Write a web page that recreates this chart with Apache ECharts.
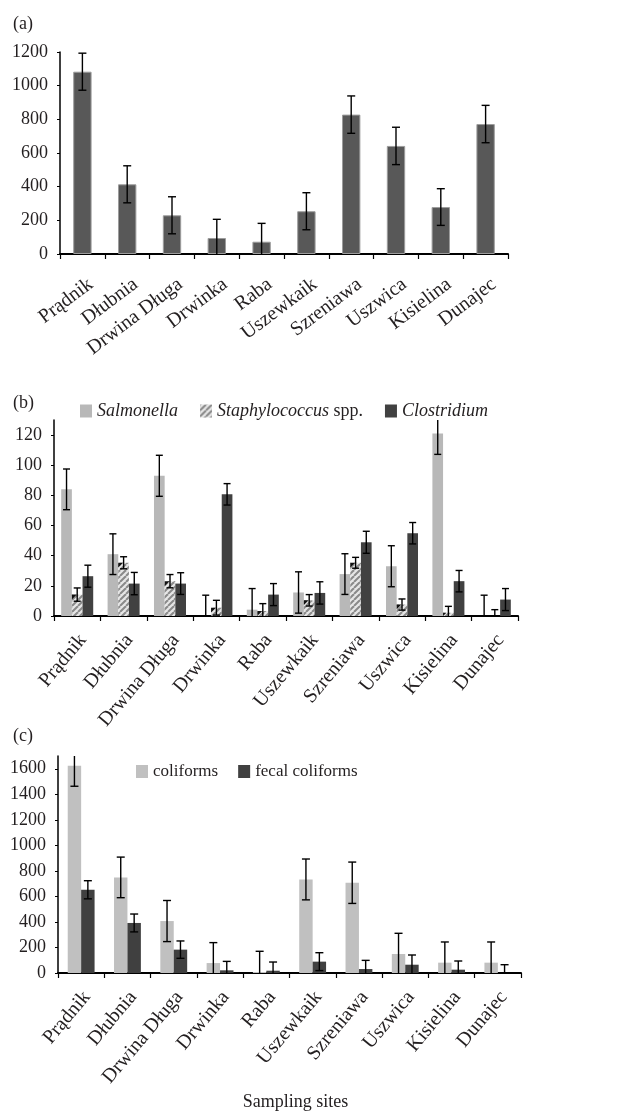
<!DOCTYPE html>
<html><head><meta charset="utf-8">
<script src="https://cdn.jsdelivr.net/npm/echarts@6/dist/echarts.min.js"></script>
<style>html,body{margin:0;padding:0;background:#fff}#c{width:622px;height:1111px}</style>
</head><body><div id="c"></div>
<script>
// ---------- data ----------
const sites = ['Prądnik','Dłubnia','Drwina Długa','Drwinka','Raba','Uszewkaik','Szreniawa','Uszwica','Kisielina','Dunajec'];

// panel (a)
const totalA    = [1083, 414, 230, 95, 73, 254, 828, 642, 279, 772];
const totalAErr = [110, 110, 110, 111, 109, 110, 111, 111, 109, 111];

// panel (b)
const salmonella    = [84, 41, 93, 0, 4.2, 15.6, 27.8, 33, 121, 0];
const salmonellaErr = [13.5, 13.5, 13.6, 13.8, 14, 13.7, 13.5, 13.6, 13.8, 13.8];
const staph         = [14.2, 35.3, 23.1, 5.5, 3.3, 10.4, 35.3, 7.6, 2.2, 0];
const staphErr      = [4.4, 4, 4.4, 4.9, 4.9, 3.8, 3.6, 3.7, 4.2, 4.2];
const clostridium   = [26.4, 21.5, 21.5, 80.7, 14.2, 15.3, 48.9, 54.9, 23.1, 10.9];
const clostridiumErr= [7.3, 7.4, 7.2, 7.1, 7.3, 7.4, 7.3, 7.1, 7.1, 7.3];

// panel (c)
const coliforms      = [1623, 749, 407, 78, 8, 733, 707, 149, 81, 81];
const coliformsErr   = [160, 159, 161, 160, 162, 160, 162, 162, 162, 162];
const fecal          = [652, 392, 183, 21, 18, 89, 31, 65, 26, 0];
const fecalErr       = [71, 70, 68, 70, 68, 70, 68, 76, 68, 65];

const yTicksA = [0,200,400,600,800,1000,1200];
const yTicksB = [0,20,40,60,80,100,120];
const yTicksC = [0,200,400,600,800,1000,1200,1400,1600];

// ---------- helpers ----------
const FONT = "'Liberation Serif','DejaVu Serif',serif";
const TXT = '#231f20';

function errData(vals, errs, yMax) {
  return vals.map((v, i) => {
    const lo = Math.max(0, v - errs[i]);
    const hi = Math.min(yMax, v + errs[i]);
    return [i, lo, hi, v, (v + errs[i]) <= yMax ? 1 : 0, (v - errs[i]) > 0 ? 1 : 0];
  });
}
function errRender(n, k, frac, cap, triangle) {
  return function (params, api) {
    const i = api.value(0), lo = api.value(1), hi = api.value(2), v = api.value(3);
    const capTop = api.value(4), capBot = api.value(5);
    const band = api.size([1, 0])[0];
    const bw = band * frac;
    const pHi = api.coord([i, hi]), pLo = api.coord([i, lo]);
    const x = pHi[0] + (k - (n - 1) / 2) * bw;
    const st = { stroke: '#000', lineWidth: 1.4 };
    const ch = [];
    if (triangle && v > 0) {
      const pV = api.coord([i, v]);
      const p0 = api.coord([i, 0]);
      const xl = x - bw / 2;
      const s = Math.min(bw * 0.45, p0[1] - pV[1]);
      ch.push({ type: 'polygon', shape: { points: [[xl, pV[1]], [xl + s, pV[1]], [xl, pV[1] + s]] }, style: { fill: '#111' } });
    }
    ch.push({ type: 'line', shape: { x1: x, y1: pHi[1], x2: x, y2: pLo[1] }, style: st });
    if (capTop) ch.push({ type: 'line', shape: { x1: x - cap, y1: pHi[1], x2: x + cap, y2: pHi[1] }, style: st });
    if (capBot) ch.push({ type: 'line', shape: { x1: x - cap, y1: pLo[1], x2: x + cap, y2: pLo[1] }, style: st });
    return { type: 'group', children: ch };
  };
}

// hatched pattern for Staphylococcus
const pat = document.createElement('canvas');
pat.width = 6; pat.height = 6;
(function () {
  const g = pat.getContext('2d');
  g.fillStyle = '#e6e6e6'; g.fillRect(0, 0, 6, 6);
  g.strokeStyle = '#8a8a8a'; g.lineWidth = 2;
  for (let o = -6; o <= 12; o += 6) { g.beginPath(); g.moveTo(o - 6, 6); g.lineTo(o, 0); g.stroke(); }
})();

function xAxis(gridIndex, rot, margin, padRight, extra) {
  return Object.assign({
    type: 'category', gridIndex, data: sites, boundaryGap: true,
    axisLine: { lineStyle: { color: '#000', width: 2 } },
    axisTick: { show: true, length: 5, lineStyle: { color: '#000', width: 1.2 } },
    axisLabel: { interval: 0, rotate: rot, fontFamily: FONT, fontSize: 20, color: TXT, margin: margin,
      verticalAlign: 'top', padding: [0, padRight, 0, 0] }
  }, extra || {});
}
function yAxis(gridIndex, max, ticks) {
  return {
    type: 'value', gridIndex, min: 0, max,
    splitLine: { show: false },
    axisLine: { show: true, lineStyle: { color: '#000', width: 1.5 } },
    axisTick: { show: true, length: 3, customValues: ticks, lineStyle: { color: '#000' } },
    axisLabel: { customValues: ticks, formatter: v => String(v), fontFamily: FONT, fontSize: 18, color: TXT, margin: 12 }
  };
}

const YA = 1200, YB = 130, YC = 1700;
const fracA = 0.41, fracB = 0.23, fracC = 0.29;

const option = {
  animation: false,
  backgroundColor: '#fff',
  title: [
    { text: '(a)', left: 8, top: 10, textStyle: { fontFamily: FONT, fontSize: 18, fontWeight: 'normal', color: TXT } },
    { text: '(b)', left: 8, top: 389, textStyle: { fontFamily: FONT, fontSize: 18, fontWeight: 'normal', color: TXT } },
    { text: '(c)', left: 8, top: 722, textStyle: { fontFamily: FONT, fontSize: 18, fontWeight: 'normal', color: TXT } }
  ],
  legend: [
    {
      data: ['Salmonella', 'Staphylococcus spp.', 'Clostridium'],
      left: 80, top: 402, padding: 0, itemWidth: 12, itemHeight: 13, itemGap: 22,
      icon: 'rect',
      formatter: function (n) { return n === 'Staphylococcus spp.' ? '{i|Staphylococcus} spp.' : '{i|' + n + '}'; },
      textStyle: { fontFamily: FONT, fontSize: 18, color: TXT,
        rich: { i: { fontFamily: FONT, fontSize: 18, fontStyle: 'italic', color: TXT } } }
    },
    {
      data: ['coliforms', 'fecal coliforms'],
      left: 136, top: 763, padding: 0, itemWidth: 12, itemHeight: 13, itemGap: 20, icon: 'rect',
      textStyle: { fontFamily: FONT, fontSize: 17, color: TXT }
    }
  ],
  grid: [
    { left: 60, top: 52, width: 448, height: 202, outerBoundsMode: 'none' },
    { left: 54, top: 420, width: 464, height: 196, outerBoundsMode: 'none' },
    { left: 58, top: 756, width: 463, height: 217, outerBoundsMode: 'none' }
  ],
  xAxis: [
    xAxis(0, 37, 22, -3), xAxis(1, 50, 12, 3),
    xAxis(2, 50, 12, 3, { name: 'Sampling sites', nameLocation: 'middle', nameGap: 120,
      nameTextStyle: { fontFamily: FONT, fontSize: 18, color: TXT, padding: [0, 0, 0, 12] } })
  ],
  yAxis: [ yAxis(0, YA, yTicksA), yAxis(1, YB, yTicksB), yAxis(2, YC, yTicksC) ],
  series: [
    { name: 'total', type: 'bar', xAxisIndex: 0, yAxisIndex: 0, data: totalA, barWidth: '41%',
      itemStyle: { color: '#585858', borderColor: '#9c9c9c', borderWidth: 1 } },
    { type: 'custom', xAxisIndex: 0, yAxisIndex: 0, z: 5, data: errData(totalA, totalAErr, YA),
      encode: { x: 0, y: [1, 2] }, renderItem: errRender(1, 0, fracA, 4, false) },

    { name: 'Salmonella', type: 'bar', xAxisIndex: 1, yAxisIndex: 1, data: salmonella, barWidth: '23%', barGap: '0%',
      itemStyle: { color: '#b8b8b8' } },
    { name: 'Staphylococcus spp.', type: 'bar', xAxisIndex: 1, yAxisIndex: 1, data: staph, barWidth: '23%', barGap: '0%',
      itemStyle: { color: { image: pat, repeat: 'repeat' } } },
    { name: 'Clostridium', type: 'bar', xAxisIndex: 1, yAxisIndex: 1, data: clostridium, barWidth: '23%', barGap: '0%',
      itemStyle: { color: '#414141' } },
    { type: 'custom', xAxisIndex: 1, yAxisIndex: 1, z: 5, data: errData(salmonella, salmonellaErr, YB),
      encode: { x: 0, y: [1, 2] }, renderItem: errRender(3, 0, fracB, 3.5, false) },
    { type: 'custom', xAxisIndex: 1, yAxisIndex: 1, z: 5, data: errData(staph, staphErr, YB),
      encode: { x: 0, y: [1, 2] }, renderItem: errRender(3, 1, fracB, 3.5, true) },
    { type: 'custom', xAxisIndex: 1, yAxisIndex: 1, z: 5, data: errData(clostridium, clostridiumErr, YB),
      encode: { x: 0, y: [1, 2] }, renderItem: errRender(3, 2, fracB, 3.5, false) },

    { name: 'coliforms', type: 'bar', xAxisIndex: 2, yAxisIndex: 2, data: coliforms, barWidth: '29%', barGap: '0%',
      itemStyle: { color: '#c0c0c0' } },
    { name: 'fecal coliforms', type: 'bar', xAxisIndex: 2, yAxisIndex: 2, data: fecal, barWidth: '29%', barGap: '0%',
      itemStyle: { color: '#404040' } },
    { type: 'custom', xAxisIndex: 2, yAxisIndex: 2, z: 5, data: errData(coliforms, coliformsErr, YC),
      encode: { x: 0, y: [1, 2] }, renderItem: errRender(2, 0, fracC, 4, false) },
    { type: 'custom', xAxisIndex: 2, yAxisIndex: 2, z: 5, data: errData(fecal, fecalErr, YC),
      encode: { x: 0, y: [1, 2] }, renderItem: errRender(2, 1, fracC, 4, false) }
  ]
};
const chart = echarts.init(document.getElementById('c'), null, { renderer: 'canvas' });
chart.setOption(option);
</script></body></html>
